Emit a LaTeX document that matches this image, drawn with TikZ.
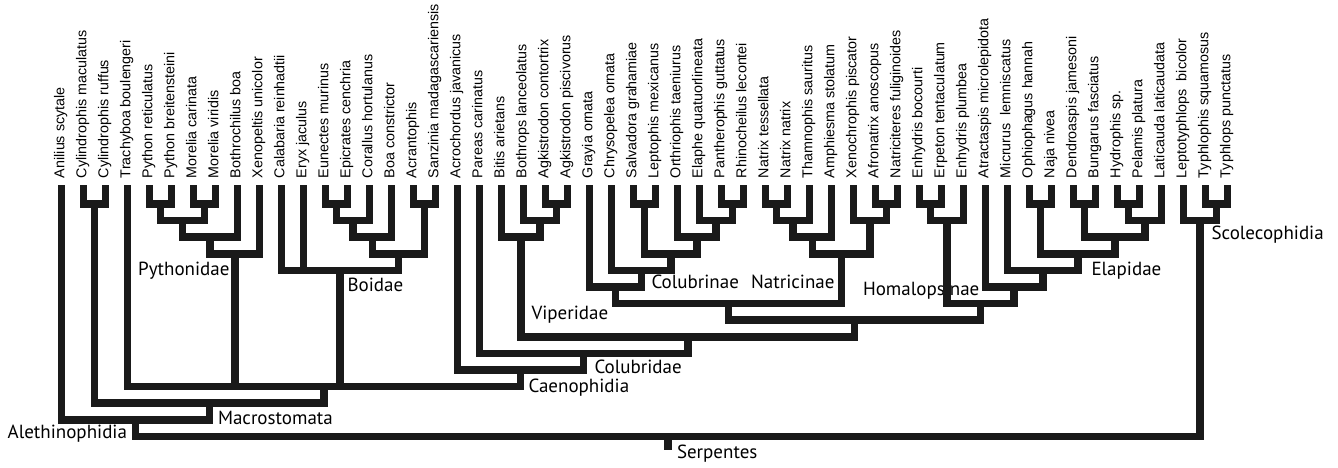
\documentclass[tikz,border=0pt]{standalone}
\usepackage{fontspec}
\setmainfont{Liberation Sans}
\newfontfamily\cladefont{PT Sans}
\definecolor{treeblack}{HTML}{1A1A1A}

\begin{document}
\begin{tikzpicture}[
  x=1pt, y=-1pt,
  taxon/.style={rotate=90, anchor=west, inner xsep=7pt, inner ysep=0pt, outer sep=0pt, font=\fontsize{14.3}{16}\selectfont, text height=0.72em, text depth=0.21em},
  clade/.style={font=\cladefont\fontsize{19}{22}\selectfont, inner sep=0pt, outer sep=0pt, text height=0.7em, text depth=0pt},
  br/.style={draw=treeblack, line width=7.5pt, line join=miter}
]
  \useasboundingbox (0,0) rectangle (1338,467);

  % Tips (left to right)
  \node[taxon] (anil) at (61.7,185) {Anilius scytale};
  \node[taxon] (cylmac) at (83.7,185) {Cylindrophis maculatus};
  \node[taxon] (cylruf) at (105.7,185) {Cylindrophis ruffus};
  \node[taxon] (trach) at (127.7,185) {Trachyboa boulengeri};
  \node[taxon] (pytret) at (149.7,185) {Python reticulatus};
  \node[taxon] (pytbre) at (171.7,185) {Python breitensteini};
  \node[taxon] (morcar) at (193.7,185) {Morelia carinata};
  \node[taxon] (morvir) at (215.7,185) {Morelia viridis};
  \node[taxon] (bothro) at (237.7,185) {Bothrochilus boa};
  \node[taxon] (xenop) at (259.7,185) {Xenopeltis unicolor};
  \node[taxon] (calab) at (281.7,185) {Calabaria reinhadtii};
  \node[taxon] (eryx) at (303.7,185) {Eryx jaculus};
  \node[taxon] (eunec) at (325.7,185) {Eunectes murinus};
  \node[taxon] (epicr) at (347.7,185) {Epicrates cenchria};
  \node[taxon] (coral) at (369.7,185) {Corallus hortulanus};
  \node[taxon] (boa) at (391.7,185) {Boa constrictor};
  \node[taxon] (acran) at (413.7,185) {Acrantophis};
  \node[taxon] (sanz) at (435.7,185) {Sanzinia madagascariensis};
  \node[taxon] (acroch) at (457.7,185) {Acrochordus javanicus};
  \node[taxon] (pareas) at (479.7,185) {Pareas carinatus};
  \node[taxon] (bitis) at (501.7,185) {Bitis arietans};
  \node[taxon] (bothrops) at (523.7,185) {Bothrops lanceolatus};
  \node[taxon] (agkcon) at (545.7,185) {Agkistrodon contortrix};
  \node[taxon] (agkpis) at (567.7,185) {Agkistrodon piscivorus};
  \node[taxon] (grayia) at (589.7,185) {Grayia ornata};
  \node[taxon] (chrys) at (611.7,185) {Chrysopelea ornata};
  \node[taxon] (salv) at (633.7,185) {Salvadora grahamiae};
  \node[taxon] (lepto) at (655.7,185) {Leptophis mexicanus};
  \node[taxon] (orth) at (677.7,185) {Orthriophis taeniurus};
  \node[taxon] (elaphe) at (699.7,185) {Elaphe quatuorlineata};
  \node[taxon] (panth) at (721.7,185) {Pantherophis guttatus};
  \node[taxon] (rhino) at (743.7,185) {Rhinocheilus lecontei};
  \node[taxon] (natess) at (765.7,185) {Natrix tessellata};
  \node[taxon] (natnat) at (787.7,185) {Natrix natrix};
  \node[taxon] (thamn) at (809.7,185) {Thamnophis sauritus};
  \node[taxon] (amph) at (831.7,185) {Amphiesma stolatum};
  \node[taxon] (xenoch) at (853.7,185) {Xenochrophis piscator};
  \node[taxon] (afron) at (875.7,185) {Afronatrix anoscopus};
  \node[taxon] (natric) at (897.7,185) {Natriciteres fuliginoides};
  \node[taxon] (enhboc) at (919.7,185) {Enhydris bocourti};
  \node[taxon] (erpet) at (941.7,185) {Erpeton tentaculatum};
  \node[taxon] (enhplu) at (963.7,185) {Enhydris plumbea};
  \node[taxon] (atrac) at (985.7,185) {Atractaspis microlepidota};
  \node[taxon] (micr) at (1007.7,185) {Micrurus\ \ lemniscatus};
  \node[taxon] (ophio) at (1029.7,185) {Ophiophagus hannah};
  \node[taxon] (naja) at (1051.7,185) {Naja nivea};
  \node[taxon] (dendro) at (1073.7,185) {Dendroaspis jamesoni};
  \node[taxon] (bung) at (1095.7,185) {Bungarus fasciatus};
  \node[taxon] (hydro) at (1117.7,185) {Hydrophis sp.};
  \node[taxon] (pelam) at (1139.7,185) {Pelamis platura};
  \node[taxon] (latic) at (1161.7,185) {Laticauda laticaudata};
  \node[taxon] (leptot) at (1183.7,185) {Leptotyphlops\ \ bicolor};
  \node[taxon] (typhlo) at (1205.7,185) {Typhlophis squamosus};
  \node[taxon] (typhps) at (1227.7,185) {Typhlops punctatus};

  % Internal nodes: x = midpoint of outer children, y = one step per level
  \coordinate (cyl) at (94.7,204);
  \coordinate (pyt) at (160.7,204);
  \coordinate (mor) at (204.7,204);
  \coordinate (pytmor) at (182.7,220.6);
  \coordinate (pytbot) at (210.2,237.2);
  \coordinate (pythonidae) at (234.95,253.8);
  \coordinate (eunepi) at (336.7,204);
  \coordinate (eunepicor) at (353.2,220.6);
  \coordinate (boines) at (372.45,237.2);
  \coordinate (acrsan) at (424.7,204);
  \coordinate (boacl) at (398.58,253.8);
  \coordinate (boidae) at (340.14,270.4);
  \coordinate (agk) at (556.7,204);
  \coordinate (agkbot) at (540.2,220.6);
  \coordinate (viperidae) at (520.95,237.2);
  \coordinate (salvlep) at (644.7,204);
  \coordinate (panrhi) at (732.7,204);
  \coordinate (elapan) at (716.2,220.6);
  \coordinate (orthel) at (696.95,237.2);
  \coordinate (colA) at (670.83,253.8);
  \coordinate (colB) at (641.26,270.4);
  \coordinate (colubrinae) at (615.48,287);
  \coordinate (natnn) at (776.7,204);
  \coordinate (natth) at (793.2,220.6);
  \coordinate (natam) at (812.45,237.2);
  \coordinate (afrnat) at (886.7,204);
  \coordinate (xenafr) at (870.2,220.6);
  \coordinate (natricinae) at (841.33,253.8);
  \coordinate (colnat) at (728.4,303.6);
  \coordinate (enherp) at (930.7,204);
  \coordinate (homalopsinae) at (947.2,220.6);
  \coordinate (ophnaj) at (1040.7,204);
  \coordinate (denbun) at (1084.7,204);
  \coordinate (hydpel) at (1128.7,204);
  \coordinate (hydlat) at (1145.2,220.6);
  \coordinate (elapC) at (1114.95,237.2);
  \coordinate (elapB) at (1077.83,253.8);
  \coordinate (elapidae) at (1042.76,270.4);
  \coordinate (atrela) at (1014.23,287);
  \coordinate (homela) at (980.7,303.6);
  \coordinate (colubroid) at (854.55,320.2);
  \coordinate (vipcol) at (687.75,336.8);
  \coordinate (colubridae) at (583.7,353.4);
  \coordinate (caenophidia) at (520.7,370);
  \coordinate (henoph) at (324.2,386.6);
  \coordinate (macrostomata) at (209.45,403.2);
  \coordinate (alethinophidia) at (135.6,419.8);
  \coordinate (typh) at (1216.7,204);
  \coordinate (scolecophidia) at (1200.2,220.6);
  \coordinate (serpentes) at (667.9,436.4);
  \coordinate (serpbase) at (667.9,450);

  % Clade names (set under the branches)
  \node[clade, anchor=east] (pythlbl) at (229.5,271.7) {Pythonidae};
  \node[clade, anchor=west] (boidlbl) at (347.5,288.3) {Boidae};
  \node[clade, anchor=west] (colinlbl) at (651.5,284.5) {Colubrinae};
  \node[clade, anchor=east] (natrlbl) at (834.5,284.5) {Natricinae};
  \node[clade, anchor=west] (homlbl) at (863,291.7) {Homalopsinae};
  \node[clade, anchor=west] (elaplbl) at (1091.5,271.7) {Elapidae};
  \node[clade, anchor=west] (scollbl) at (1211.5,235.7) {Scolecophidia};
  \node[clade, anchor=west] (viplbl) at (531.5,316.3) {Viperidae};
  \node[clade, anchor=west] (colidlbl) at (594.5,370) {Colubridae};
  \node[clade, anchor=west] (caenlbl) at (528.5,389.3) {Caenophidia};
  \node[clade, anchor=west] (macrlbl) at (218,420.5) {Macrostomata};
  \node[clade, anchor=east] (aletlbl) at (127,435) {Alethinophidia};
  \node[clade, anchor=west] (serplbl) at (677,455) {Serpentes};

  % Branches
  \draw[br] (cyl) -| (cylmac.west) (cyl) -| (cylruf.west);
  \draw[br] (pyt) -| (pytret.west) (pyt) -| (pytbre.west);
  \draw[br] (mor) -| (morcar.west) (mor) -| (morvir.west);
  \draw[br] (pytmor) -| (pyt) (pytmor) -| (mor);
  \draw[br] (pytbot) -| (pytmor) (pytbot) -| (bothro.west);
  \draw[br] (pythonidae) -| (pytbot) (pythonidae) -| (xenop.west);
  \draw[br] (eunepi) -| (eunec.west) (eunepi) -| (epicr.west);
  \draw[br] (eunepicor) -| (eunepi) (eunepicor) -| (coral.west);
  \draw[br] (boines) -| (eunepicor) (boines) -| (boa.west);
  \draw[br] (acrsan) -| (acran.west) (acrsan) -| (sanz.west);
  \draw[br] (boacl) -| (boines) (boacl) -| (acrsan);
  \draw[br] (boidae) -| (calab.west) (boidae) -| (eryx.west) (boidae) -| (boacl);
  \draw[br] (agk) -| (agkcon.west) (agk) -| (agkpis.west);
  \draw[br] (agkbot) -| (bothrops.west) (agkbot) -| (agk);
  \draw[br] (viperidae) -| (bitis.west) (viperidae) -| (agkbot);
  \draw[br] (salvlep) -| (salv.west) (salvlep) -| (lepto.west);
  \draw[br] (panrhi) -| (panth.west) (panrhi) -| (rhino.west);
  \draw[br] (elapan) -| (elaphe.west) (elapan) -| (panrhi);
  \draw[br] (orthel) -| (orth.west) (orthel) -| (elapan);
  \draw[br] (colA) -| (salvlep) (colA) -| (orthel);
  \draw[br] (colB) -| (chrys.west) (colB) -| (colA);
  \draw[br] (colubrinae) -| (grayia.west) (colubrinae) -| (colB);
  \draw[br] (natnn) -| (natess.west) (natnn) -| (natnat.west);
  \draw[br] (natth) -| (natnn) (natth) -| (thamn.west);
  \draw[br] (natam) -| (natth) (natam) -| (amph.west);
  \draw[br] (afrnat) -| (afron.west) (afrnat) -| (natric.west);
  \draw[br] (xenafr) -| (xenoch.west) (xenafr) -| (afrnat);
  \draw[br] (natricinae) -| (natam) (natricinae) -| (xenafr);
  \draw[br] (colnat) -| (colubrinae) (colnat) -| (natricinae);
  \draw[br] (enherp) -| (enhboc.west) (enherp) -| (erpet.west);
  \draw[br] (homalopsinae) -| (enherp) (homalopsinae) -| (enhplu.west);
  \draw[br] (ophnaj) -| (ophio.west) (ophnaj) -| (naja.west);
  \draw[br] (denbun) -| (dendro.west) (denbun) -| (bung.west);
  \draw[br] (hydpel) -| (hydro.west) (hydpel) -| (pelam.west);
  \draw[br] (hydlat) -| (hydpel) (hydlat) -| (latic.west);
  \draw[br] (elapC) -| (denbun) (elapC) -| (hydlat);
  \draw[br] (elapB) -| (ophnaj) (elapB) -| (elapC);
  \draw[br] (elapidae) -| (micr.west) (elapidae) -| (elapB);
  \draw[br] (atrela) -| (atrac.west) (atrela) -| (elapidae);
  \draw[br] (homela) -| (homalopsinae) (homela) -| (atrela);
  \draw[br] (colubroid) -| (colnat) (colubroid) -| (homela);
  \draw[br] (vipcol) -| (viperidae) (vipcol) -| (colubroid);
  \draw[br] (colubridae) -| (pareas.west) (colubridae) -| (vipcol);
  \draw[br] (caenophidia) -| (acroch.west) (caenophidia) -| (colubridae);
  \draw[br] (henoph) -| (trach.west) (henoph) -| (pythonidae) (henoph) -| (boidae) (henoph) -| (caenophidia);
  \draw[br] (macrostomata) -| (cyl) (macrostomata) -| (henoph);
  \draw[br] (alethinophidia) -| (anil.west) (alethinophidia) -| (macrostomata);
  \draw[br] (typh) -| (typhlo.west) (typh) -| (typhps.west);
  \draw[br] (scolecophidia) -| (leptot.west) (scolecophidia) -| (typh);
  \draw[br] (serpentes) -| (alethinophidia) (serpentes) -| (scolecophidia);
  \draw[br] (serpentes) -- (serpbase);

\end{tikzpicture}
\end{document}
